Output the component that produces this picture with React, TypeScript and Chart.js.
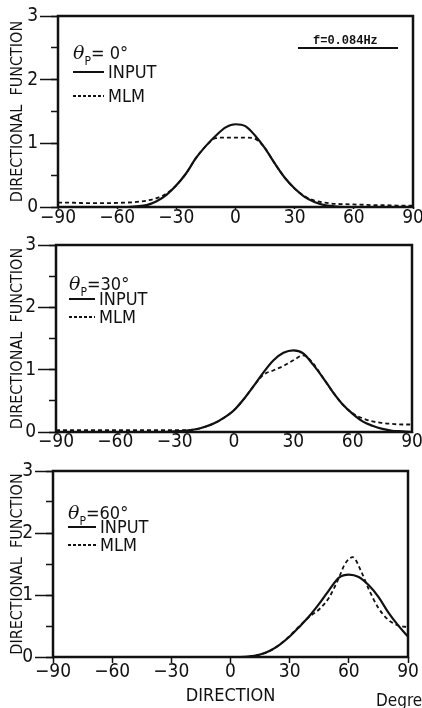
import React, { useEffect, useRef } from "react";
import { Chart, registerables } from "chart.js";

Chart.register(...registerables);

// Directions (degrees) shared by most series
const directions = [
  -90, -85, -80, -75, -70, -65, -60, -55, -50, -45, -40, -35, -30, -25, -20, -15, -10, -5,
  0, 5, 10, 15, 20, 25, 30, 35, 40, 45, 50, 55, 60, 65, 70, 75, 80, 85, 90,
];

// θp = 0°
const input0 = [
  0, 0, 0, 0, 0, 0, 0, 0, 0.01, 0.03, 0.09, 0.19, 0.34, 0.53, 0.77, 0.96, 1.12, 1.25,
  1.3, 1.27, 1.12, 0.92, 0.68, 0.46, 0.29, 0.16, 0.08, 0.03, 0.01, 0, 0, 0, 0, 0, 0, 0, 0,
];
const mlm0 = [
  0.07, 0.07, 0.065, 0.06, 0.06, 0.06, 0.065, 0.07, 0.08, 0.1, 0.14, 0.21, 0.34, 0.53, 0.77, 0.96, 1.08, 1.09,
  1.09, 1.09, 1.07, 0.92, 0.68, 0.46, 0.29, 0.17, 0.1, 0.07, 0.05, 0.045, 0.04, 0.035, 0.03, 0.03, 0.025, 0.02, 0.02,
];

// θp = 30°
const input30 = [
  0, 0, 0, 0, 0, 0, 0, 0, 0, 0, 0, 0, 0.01, 0.02, 0.04, 0.08, 0.14, 0.23,
  0.35, 0.53, 0.74, 0.96, 1.15, 1.27, 1.31, 1.26, 1.08, 0.87, 0.64, 0.44, 0.29, 0.17, 0.1, 0.05, 0.02, 0.01, 0,
];
const mlm30 = [
  0.03, 0.03, 0.03, 0.03, 0.03, 0.03, 0.03, 0.03, 0.03, 0.03, 0.03, 0.03, 0.03, 0.03, 0.04, 0.08, 0.14, 0.23,
  0.35, 0.53, 0.74, 0.92, 0.99, 1.06, 1.15, 1.23, 1.1, 0.87, 0.64, 0.44, 0.3, 0.22, 0.17, 0.145, 0.13, 0.12, 0.12,
];

// θp = 60°
const input60 = [
  0, 0, 0, 0, 0, 0, 0, 0, 0, 0, 0, 0, 0, 0, 0, 0, 0, 0,
  0, 0, 0.01, 0.04, 0.1, 0.2, 0.33, 0.49, 0.66, 0.86, 1.08, 1.28, 1.33, 1.29, 1.16, 0.97, 0.72, 0.51, 0.33,
];
const mlm60Directions = [-90, -60, -30, 0, 5, 10, 15, 20, 25, 30, 35, 40, 45, 50, 55, 58, 62, 66, 70, 75, 80, 85, 90];
const mlm60 = [0, 0, 0, 0, 0, 0.01, 0.04, 0.1, 0.2, 0.34, 0.5, 0.65, 0.77, 0.96, 1.28, 1.5, 1.61, 1.4, 1.1, 0.79, 0.6, 0.51, 0.48];

const xTicks = [-90, -60, -30, 0, 30, 60, 90];
const yTicks = [0, 1, 2, 3];

const INK = "#111";
const FONT = '"DejaVu Sans Condensed", "DejaVu Sans", sans-serif';

const framePlugin = {
  id: "frame",
  afterDraw(chart: any) {
    const { ctx, chartArea: a } = chart;
    ctx.save();
    ctx.strokeStyle = INK;
    ctx.lineWidth = 2.5;
    ctx.strokeRect(a.left, a.top, a.right - a.left, a.bottom - a.top);
    ctx.restore();
  },
};

type PanelProps = {
  top: number;
  height: number;
  plotLeft: number;
  plotRight: number;
  plotTop: number;
  plotBottom: number;
  inputDir: number[];
  input: number[];
  mlmDir: number[];
  mlm: number[];
  xTickLen: number;
  xTitle?: string;
};

function Panel(p: PanelProps) {
  const ref = useRef<HTMLCanvasElement>(null);
  useEffect(() => {
    const pts = (xs: number[], ys: number[]) => xs.map((x, i) => ({ x, y: ys[i] }));
    const chart = new Chart(ref.current as HTMLCanvasElement, {
      type: "line",
      data: {
        datasets: [
          {
            label: "INPUT",
            data: pts(p.inputDir, p.input),
            borderColor: INK,
            borderWidth: 2.2,
            pointRadius: 0,
            cubicInterpolationMode: "monotone",
            fill: false,
          },
          {
            label: "MLM",
            data: pts(p.mlmDir, p.mlm),
            borderColor: INK,
            borderWidth: 1.8,
            borderDash: [4, 3],
            pointRadius: 0,
            cubicInterpolationMode: "monotone",
            fill: false,
          },
        ],
      },
      options: {
        animation: false,
        responsive: false,
        events: [],
        layout: {
          padding: { top: p.plotTop - p.top, right: 422 - p.plotRight, left: 0, bottom: 0 },
        },
        plugins: { legend: { display: false }, tooltip: { enabled: false } },
        scales: {
          x: {
            type: "linear",
            min: -90,
            max: 90,
            afterBuildTicks: (s: any) => {
              s.ticks = xTicks.map((v) => ({ value: v }));
            },
            ticks: {
              callback: (v: any) => (v < 0 ? "\u2212" + Math.abs(v) : String(v)),
              font: { family: FONT, size: 19, lineHeight: 1 },
              color: INK,
              padding: 0,
              maxRotation: 0,
              autoSkip: false,
            },
            grid: { drawOnChartArea: false, tickLength: p.xTickLen, tickWidth: 1.5, tickColor: INK },
            border: { display: false },
            title: {
              display: !!p.xTitle,
              text: p.xTitle || "",
              font: { family: FONT, size: 18 },
              color: INK,
              padding: { top: 0, bottom: 1 },
            },
            afterFit: (s: any) => {
              s.height = p.top + p.height - p.plotBottom;
              s.paddingLeft = 0;
              s.paddingRight = 0;
            },
          },
          y: {
            position: "left",
            weight: 1,
            min: 0,
            max: 3,
            afterBuildTicks: (s: any) => {
              s.ticks = yTicks.map((v) => ({ value: v }));
            },
            ticks: {
              font: { family: FONT, size: 19, lineHeight: 1 },
              color: INK,
              padding: 2,
            },
            grid: { drawOnChartArea: false, tickLength: 18, tickWidth: 1.5, tickColor: INK },
            border: { display: false },
            title: {
              display: true,
              text: "DIRECTIONAL  FUNCTION",
              font: { family: FONT, size: 16 },
              color: INK,
              padding: { top: 8, bottom: 0 },
            },
            afterFit: (s: any) => {
              s.width = p.plotLeft;
              s.paddingTop = 0;
              s.paddingBottom = 0;
            },
          },
          y2: {
            position: "left",
            weight: 0,
            min: 0,
            max: 3,
            ticks: { stepSize: 0.5, display: false },
            grid: { drawOnChartArea: false, tickLength: 7, tickWidth: 1.5, tickColor: INK },
            border: { display: false },
            afterFit: (s: any) => {
              s.width = 0;
              s.paddingTop = 0;
              s.paddingBottom = 0;
            },
          },
        },
      } as any,
      plugins: [framePlugin],
    });
    return () => chart.destroy();
  }, []);
  return (
    <canvas
      ref={ref}
      width={422}
      height={p.height}
      style={{ position: "absolute", left: 0, top: p.top, width: 422, height: p.height, display: "block" }}
    />
  );
}

const textStyle: React.CSSProperties = {
  position: "absolute",
  fontFamily: FONT,
  fontSize: 18,
  lineHeight: "20px",
  color: INK,
  whiteSpace: "nowrap",
};

function Legend({ x, lineX, thetaY, inputY, mlmY, angle }: { x: number; lineX: number; thetaY: number; inputY: number; mlmY: number; angle: string }) {
  return (
    <>
      <div style={{ ...textStyle, left: lineX, top: thetaY - 10 }}>
        <span style={{ fontStyle: "italic", fontFamily: '"DejaVu Serif", serif', fontSize: 19 }}>θ</span>
        <span style={{ fontSize: 12, position: "relative", top: 6 }}>P</span>
        <span>={angle}°</span>
      </div>
      <svg style={{ position: "absolute", left: lineX, top: inputY - 2 }} width={x - lineX - 4} height={4}>
        <line x1={0} y1={2} x2={x - lineX - 4} y2={2} stroke={INK} strokeWidth={2} />
      </svg>
      <div style={{ ...textStyle, left: x, top: inputY - 10 }}>INPUT</div>
      <svg style={{ position: "absolute", left: lineX, top: mlmY - 2 }} width={x - lineX - 4} height={4}>
        <line x1={0} y1={2} x2={x - lineX - 4} y2={2} stroke={INK} strokeWidth={1.8} strokeDasharray="3 2" />
      </svg>
      <div style={{ ...textStyle, left: x, top: mlmY - 10 }}>MLM</div>
    </>
  );
}

export default function App() {
  return (
    <div style={{ position: "absolute", left: 0, top: 0, width: 422, height: 708, overflow: "hidden", background: "#fff" }}>
      <Panel
        top={0}
        height={232}
        plotLeft={58}
        plotRight={413}
        plotTop={16}
        plotBottom={207}
        inputDir={directions}
        input={input0}
        mlmDir={directions}
        mlm={mlm0}
        xTickLen={2}
      />
      <Panel
        top={226}
        height={234}
        plotLeft={56}
        plotRight={412}
        plotTop={245}
        plotBottom={432}
        inputDir={directions}
        input={input30}
        mlmDir={directions}
        mlm={mlm30}
        xTickLen={1}
      />
      <Panel
        top={450}
        height={258}
        plotLeft={53}
        plotRight={408}
        plotTop={471}
        plotBottom={657}
        inputDir={directions}
        input={input60}
        mlmDir={mlm60Directions}
        mlm={mlm60}
        xTickLen={6}
        xTitle="DIRECTION"
      />
      <Legend x={108} lineX={73} thetaY={52} inputY={72} mlmY={96} angle=" 0" />
      <Legend x={99} lineX={69} thetaY={283} inputY={299} mlmY={317} angle="30" />
      <Legend x={100} lineX={68} thetaY={512} inputY={527} mlmY={545} angle="60" />
      <div
        style={{
          position: "absolute",
          left: 313,
          top: 34,
          fontFamily: '"Liberation Mono", "DejaVu Sans Mono", monospace',
          fontWeight: "bold",
          fontSize: 12,
          lineHeight: "14px",
          color: INK,
          whiteSpace: "nowrap",
        }}
      >
        f=0.084Hz
      </div>
      <div style={{ position: "absolute", left: 298, top: 47, width: 100, height: 2, background: INK }} />
      <div style={{ ...textStyle, left: 376, top: 690, fontSize: 17 }}>Degree</div>
    </div>
  );
}
